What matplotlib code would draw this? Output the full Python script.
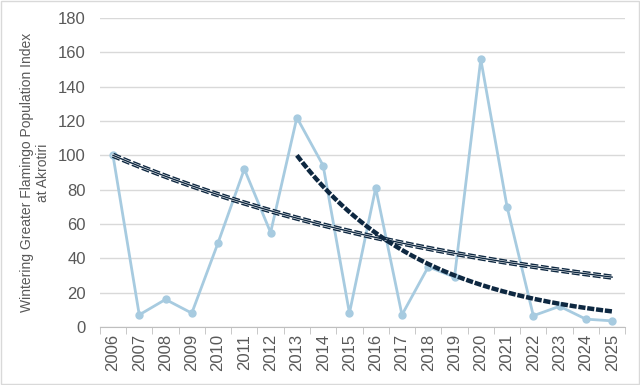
import numpy as np
import matplotlib.pyplot as plt
from matplotlib.patches import Rectangle

# data
years = ['2006', '2007', '2008', '2009', '2010', '2011', '2012', '2013', '2014', '2015',
         '2016', '2017', '2018', '2019', '2020', '2021', '2022', '2023', '2024', '2025']
index_vals = [100, 7, 16, 8, 49, 92, 55, 122, 94, 8,
              81, 7, 35, 29, 156, 70, 6.5, 12, 4.5, 3.5]

# exponential trendlines: (first year, value at start, value at end year 2025)
trend_long = (2006, 100, 29)
trend_short = (2013, 100, 9)

plt.rcParams['font.family'] = ['Liberation Sans', 'DejaVu Sans']

fig = plt.figure(figsize=(6.4, 3.85), dpi=100)
ax = fig.add_axes([0.156, 0.151, 0.821, 0.802])

x = np.arange(len(years))
line_col = '#a7cbe0'
dark = '#0e2841'
ax.plot(x, index_vals, color=line_col, lw=2, marker='o', ms=5, zorder=3)


def exp_trend(start_year, v0, v1):
    i0 = years.index(str(start_year))
    i1 = len(years) - 1
    k = np.log(v1 / v0) / (i1 - i0)
    xs = np.linspace(i0, i1, 200)
    return xs, v0 * np.exp(k * (xs - i0))


xs, ys = exp_trend(*trend_long)
ax.plot(xs, ys, color=dark, lw=3.8, ls=(0, (1.5, 0.5)), zorder=4)
ax.plot(xs, ys, color='white', lw=1.8, zorder=4)
ax.plot(xs, ys, color=dark, lw=1.0, zorder=4)

xs, ys = exp_trend(*trend_short)
ax.plot(xs, ys, color=dark, lw=3.2, ls=(0, (1.6, 0.4)), zorder=4)

ax.set_xlim(-0.5, len(years) - 0.5)
ax.set_ylim(0, 180)
ax.set_yticks(np.arange(0, 181, 20))
ax.set_xticks(x)
ax.set_xticklabels(years, rotation=90)
ax.set_xticks(np.arange(-0.5, len(years), 1), minor=True)
ax.tick_params(axis='x', which='major', length=0, pad=5, labelsize=12, colors='#595959')
ax.tick_params(axis='x', which='minor', length=5, color='#bfbfbf')
ax.tick_params(axis='y', length=0, pad=10, labelsize=12, colors='#595959')
ax.grid(axis='y', color='#d9d9d9', lw=1)
ax.set_axisbelow(True)
for s in ['top', 'right', 'left']:
    ax.spines[s].set_visible(False)
ax.spines['bottom'].set_color('#bfbfbf')

ax.set_ylabel('Wintering Greater Flamingo Population Index\nat Akrotiri',
              fontsize=10, color='#595959', labelpad=6)

fig.patches.append(Rectangle((0.001, 0.002), 0.997, 0.995, transform=fig.transFigure,
                             fill=False, edgecolor='#d9d9d9', lw=1))

fig.savefig('out.png', dpi=100)
